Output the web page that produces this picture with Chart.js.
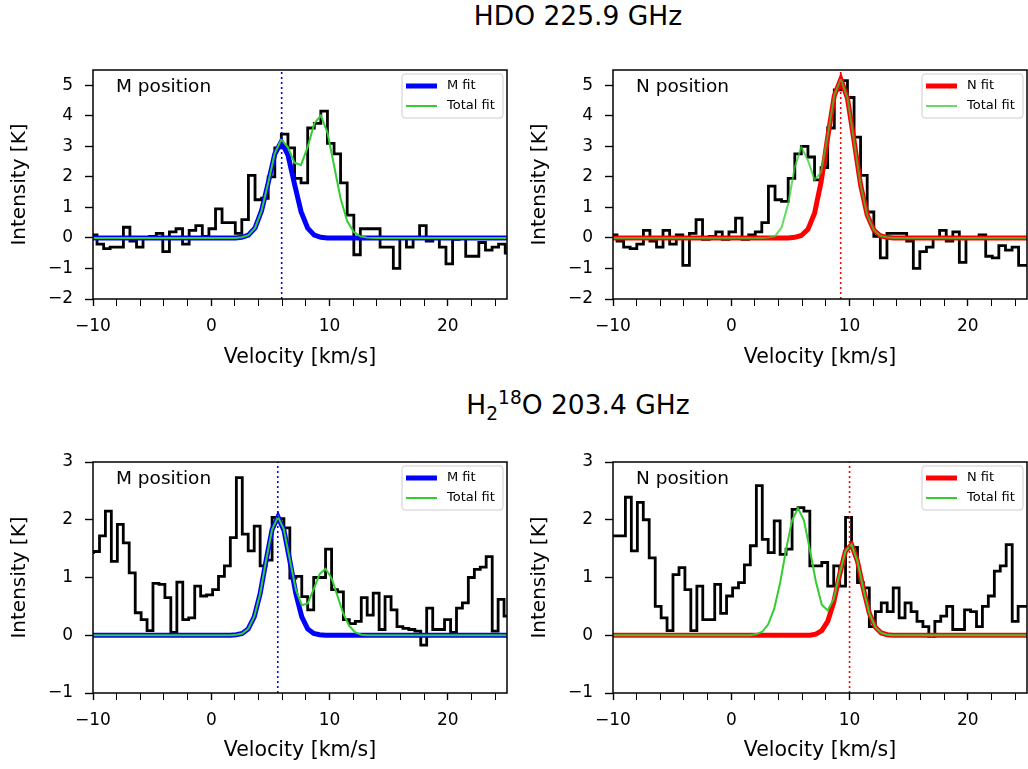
<!DOCTYPE html>
<html lang="en">
<head>
<meta charset="UTF-8">
<title>HDO and H2 18O line fits</title>
<script src="https://cdn.jsdelivr.net/npm/chart.js"></script>
<style>
  body { margin: 0; background: #fff; }
  #fig { position: relative; width: 1028px; height: 769px; overflow: hidden; font-family: "DejaVu Sans", sans-serif; }
  .panel { position: absolute; }
  .suptitle { position: absolute; left: 328px; width: 500px; text-align: center; font-size: 26.5px; line-height: 1.2; color: #000; }
  .suptitle sub, .suptitle sup { font-size: 0.7em; line-height: 0; }
</style>
</head>
<body>
<div id="fig">
  <div class="suptitle" style="top:0px">HDO 225.9 GHz</div>
  <div class="suptitle" style="top:389px">H<sub>2</sub><sup>18</sup>O 203.4 GHz</div>
  <div class="panel" style="left:0;top:40px;width:520px;height:340px"><canvas id="c1"></canvas></div>
  <div class="panel" style="left:520px;top:40px;width:508px;height:340px"><canvas id="c2"></canvas></div>
  <div class="panel" style="left:0;top:430px;width:520px;height:339px"><canvas id="c3"></canvas></div>
  <div class="panel" style="left:520px;top:430px;width:508px;height:339px"><canvas id="c4"></canvas></div>
</div>

<script>
// HDO 225.9 GHz: channel velocities (km/s), spectrum drawn as steps
const hdoVel = [-10.77, -10.22, -9.66, -9.10, -8.55, -7.99, -7.43, -6.88, -6.32, -5.77,
  -5.21, -4.65, -4.10, -3.54, -2.98, -2.43, -1.87, -1.31, -0.76, -0.20,
  0.36, 0.91, 1.47, 2.03, 2.58, 3.14, 3.70, 4.25, 4.81, 5.37,
  5.92, 6.48, 7.04, 7.59, 8.15, 8.71, 9.26, 9.82, 10.38, 10.93,
  11.49, 12.05, 12.60, 13.16, 13.72, 14.27, 14.83, 15.39, 15.94, 16.50,
  17.06, 17.61, 18.17, 18.73, 19.28, 19.84, 20.40, 20.95, 21.51, 22.07,
  22.62, 23.18, 23.74, 24.29, 24.85, 25.41];
const hdoSpecM = [-0.1, 0.1, -0.2, -0.35, -0.3, -0.3, 0.35, -0.1, -0.3, 0.0,
  0.05, 0.15, -0.45, 0.2, 0.3, -0.2, 0.25, 0.4, 0.05, 0.3,
  0.95, 0.5, 0.5, 0.15, 0.6, 2.05, 1.25, 1.3, 2.0, 2.95,
  3.4, 2.95, 1.95, 1.8, 3.6, 3.75, 4.15, 3.1, 2.75, 1.8,
  0.75, -0.55, 0.3, 0.3, 0.3, -0.3, -0.3, -1.0, 0.0, -0.3,
  0.0, 0.4, -0.1, 0.0, -0.3, -0.85, -0.05, 0.0, -0.6, -0.6,
  -0.15, -0.4, -0.3, -0.2, -0.5, -0.5];
const hdoSpecN = [0.0, 0.1, -0.1, -0.3, -0.35, -0.2, 0.25, -0.1, -0.3, 0.25,
  -0.2, 0.1, -0.9, 0.15, 0.6, -0.05, 0.05, 0.2, -0.05, 0.2,
  0.65, -0.05, 0.1, 0.2, 0.5, 1.7, 1.25, 1.2, 1.95, 2.75,
  3.0, 2.65, 1.9, 2.3, 3.6, 4.85, 5.15, 4.6, 3.3, 2.05,
  0.85, 0.05, -0.65, 0.15, 0.15, 0.15, -0.1, -1.0, -0.45, -0.3,
  0.0, 0.25, -0.1, 0.2, -0.8, 0.0, 0.0, 0.1, -0.6, -0.65,
  -0.25, -0.4, -0.3, -0.9, -0.9, -0.9];
// fitted profiles, sampled on the line channels
const hdoFitVel = [-10.77, 1.47, 2.03, 2.58, 3.14, 3.70, 4.25, 4.81, 5.37, 5.92, 6.48, 7.04, 7.59,
  8.15, 8.71, 9.26, 9.82, 10.38, 10.93, 11.49, 12.05, 12.60, 13.16, 13.72, 25.41];
const hdoFitM = [0, 0, 0, 0.02, 0.09, 0.33, 0.89, 1.80, 2.75, 3.15, 2.72, 1.76, 0.86,
  0.32, 0.09, 0.02, 0, 0, 0, 0, 0, 0, 0, 0, 0];
const hdoFitTotM = [0, 0, 0, 0.02, 0.09, 0.33, 0.89, 1.80, 2.77, 3.22, 2.97, 2.46, 2.39,
  2.98, 3.75, 4.01, 3.45, 2.37, 1.29, 0.55, 0.19, 0.05, 0.01, 0, 0];
const hdoFitN = [0, 0, 0, 0, 0, 0, 0, 0, 0.02, 0.08, 0.28, 0.81, 1.83,
  3.29, 4.66, 5.2, 4.58, 3.18, 1.74, 0.75, 0.26, 0.07, 0.02, 0, 0];
const hdoFitTotN = [0, 0, 0, 0, 0.01, 0.06, 0.34, 1.12, 2.32, 2.98, 2.54, 1.90, 2.15,
  3.35, 4.67, 5.2, 4.58, 3.18, 1.74, 0.75, 0.26, 0.07, 0.02, 0, 0];

// H2 18O 203.4 GHz
const h2oVel = [-10.46, -9.96, -9.45, -8.95, -8.45, -7.94, -7.44, -6.94, -6.43, -5.93,
  -5.43, -4.93, -4.42, -3.92, -3.42, -2.91, -2.41, -1.91, -1.40, -0.90,
  -0.40, 0.11, 0.61, 1.11, 1.61, 2.12, 2.62, 3.12, 3.63, 4.13,
  4.63, 5.14, 5.64, 6.14, 6.64, 7.15, 7.65, 8.15, 8.66, 9.16,
  9.66, 10.17, 10.67, 11.17, 11.67, 12.18, 12.68, 13.18, 13.69, 14.19,
  14.69, 15.20, 15.70, 16.20, 16.70, 17.21, 17.71, 18.21, 18.72, 19.22,
  19.72, 20.23, 20.73, 21.23, 21.73, 22.24, 22.74, 23.24, 23.75, 24.25,
  24.75, 25.26];
const h2oSpecM = [1.43, 1.45, 1.72, 2.15, 1.28, 1.92, 1.6, 1.08, 0.39, 0.27,
  0.08, 0.9, 0.88, 0.65, 0.05, 0.92, 0.27, 0.3, 0.85, 0.68,
  0.7, 0.79, 1.02, 1.2, 1.69, 2.73, 1.75, 1.46, 1.89, 1.2,
  1.3, 2.04, 2.02, 1.86, 0.99, 1.02, 0.67, 0.44, 1.0, 1.0,
  1.49, 0.79, 0.75, 0.27, 0.2, 0.24, 0.65, 0.35, 0.73, 0.1,
  0.67, 0.44, 0.15, 0.12, 0.1, 0.07, -0.17, 0.47, 0.1, 0.1,
  0.27, 0.05, 0.47, 0.56, 1.0, 1.14, 1.18, 1.36, 0.07, 0.62,
  0.33, 0.33];
const h2oSpecN = [1.72, 1.72, 1.72, 2.39, 1.46, 2.3, 2.0, 1.34, 0.5, 0.3,
  0.08, 1.05, 1.17, 0.79, 0.08, 0.85, 0.27, 0.27, 0.88, 0.38,
  0.68, 0.82, 0.91, 1.22, 1.55, 2.59, 1.66, 1.43, 1.98, 1.4,
  1.49, 2.18, 2.21, 2.15, 1.2, 1.2, 1.26, 0.85, 1.2, 0.85,
  2.04, 1.52, 0.91, 0.82, 0.15, 0.41, 0.56, 0.41, 0.82, 0.3,
  0.56, 0.41, 0.24, 0.15, -0.02, 0.24, 0.33, 0.5, 0.1, 0.1,
  0.44, 0.41, 0.15, 0.5, 0.68, 1.11, 1.2, 1.57, 0.24, 0.5,
  0.5, 0.5];
const h2oFitVel = [-10.46, 1.11, 1.61, 2.12, 2.62, 3.12, 3.63, 4.13, 4.63, 5.14, 5.64, 6.14, 6.64, 7.15,
  7.65, 8.15, 8.66, 9.16, 9.66, 10.17, 10.67, 11.17, 11.67, 12.18, 12.68, 13.18, 13.69, 25.26];
const h2oFitM = [0, 0, 0, 0.01, 0.03, 0.11, 0.32, 0.72, 1.29, 1.83, 2.05, 1.82, 1.29, 0.72,
  0.32, 0.11, 0.03, 0.01, 0, 0, 0, 0, 0, 0, 0, 0, 0, 0];
const h2oFitTotM = [0, 0, 0, 0.01, 0.03, 0.11, 0.32, 0.72, 1.29, 1.83, 2.05, 1.83, 1.31, 0.79,
  0.52, 0.55, 0.80, 1.06, 1.15, 0.99, 0.68, 0.37, 0.16, 0.05, 0.01, 0, 0, 0];
const h2oFitN = [0, 0, 0, 0, 0, 0, 0, 0, 0, 0, 0, 0, 0, 0.02,
  0.08, 0.24, 0.57, 1.05, 1.46, 1.57, 1.28, 0.80, 0.38, 0.14, 0.04, 0.01, 0, 0];
const h2oFitTotN = [0, 0, 0, 0.02, 0.06, 0.19, 0.46, 0.91, 1.48, 1.99, 2.2, 1.99, 1.48, 0.93,
  0.53, 0.43, 0.63, 1.07, 1.46, 1.57, 1.28, 0.80, 0.38, 0.14, 0.04, 0.01, 0, 0];

// systemic velocity markers (km/s)
const vlineHdoM = 5.95, vlineHdoN = 9.25, vlineH2oM = 5.62, vlineH2oN = 10.0;
const xLabelTicks = [-10, 0, 10, 20];

Chart.defaults.font.family = '"DejaVu Sans", sans-serif';
Chart.defaults.color = '#000';

const fmt = v => (v < 0 ? '\u2212' + Math.abs(v) : String(v));
const pts = (xs, ys) => xs.map((x, i) => ({ x: x, y: ys[i] }));

// frame, position label and legend box inside the axes
const decoPlugin = {
  id: 'deco',
  afterDraw(chart, args, o) {
    const ca = chart.chartArea, ctx = chart.ctx;
    ctx.save();
    ctx.strokeStyle = '#000';
    ctx.lineWidth = 1.5;
    ctx.strokeRect(ca.left, ca.top, ca.right - ca.left, ca.bottom - ca.top);

    ctx.fillStyle = '#000';
    ctx.font = '18.5px "DejaVu Sans"';
    ctx.textBaseline = 'alphabetic';
    ctx.fillText(o.label, ca.left + 23, ca.top + 22);

    const bw = 101, bh = 44, bx = ca.right - bw - 4, by = ca.top + 4;
    ctx.beginPath();
    ctx.roundRect(bx, by, bw, bh, 3);
    ctx.fillStyle = 'rgba(255,255,255,0.8)';
    ctx.fill();
    ctx.strokeStyle = '#cccccc';
    ctx.lineWidth = 1;
    ctx.stroke();
    ctx.font = '13px "DejaVu Sans"';
    ctx.textBaseline = 'middle';
    o.entries.forEach((e, i) => {
      const y = by + 12 + i * 20;
      ctx.beginPath();
      ctx.moveTo(bx + 4, y);
      ctx.lineTo(bx + 35, y);
      ctx.strokeStyle = e.color;
      ctx.lineWidth = e.width;
      ctx.stroke();
      ctx.fillStyle = '#000';
      ctx.fillText(e.text, bx + 45, y);
    });
    ctx.restore();
  }
};

function makePanel(p) {
  new Chart(document.getElementById(p.id), {
    type: 'line',
    data: {
      datasets: [
        { data: [{ x: p.vline, y: p.ymin }, { x: p.vline, y: p.ymax }], borderColor: p.color,
          borderWidth: 1.6, borderDash: [2, 3], pointRadius: 0, order: 1, clip: 0 },
        { data: pts(p.fitVel, p.total), borderColor: p.totColor, borderWidth: 2,
          pointRadius: 0, order: 2, clip: 0 },
        { data: pts(p.fitVel, p.fit), borderColor: p.color, borderWidth: 5,
          pointRadius: 0, order: 3, clip: 0 },
        { data: pts(p.vel, p.spec), borderColor: '#000', borderWidth: 2.8, stepped: 'before',
          pointRadius: 0, order: 4, clip: 0 }
      ]
    },
    options: {
      responsive: true,
      maintainAspectRatio: false,
      animation: false,
      events: [],
      layout: { padding: { top: p.padTop, right: p.padRight, left: 0, bottom: 0 } },
      plugins: {
        legend: { display: false },
        tooltip: { enabled: false },
        deco: { label: p.label, entries: [
          { text: p.fitName, color: p.color, width: 5 },
          { text: 'Total fit', color: p.totColor, width: 2 }
        ] }
      },
      scales: {
        x: {
          type: 'linear', min: -10, max: 25,
          afterFit: s => { s.height = p.xH; },
          border: { display: false },
          grid: { drawOnChartArea: false, tickLength: 7, tickColor: '#000',
                  tickWidth: c => (xLabelTicks.includes(c.tick.value) ? 1.4 : 1) },
          ticks: { stepSize: 2, autoSkip: false, maxRotation: 0, includeBounds: false, padding: 10,
                   font: { size: 17 }, color: '#000',
                   callback: v => (xLabelTicks.includes(v) ? fmt(v) : '') },
          title: { display: true, text: 'Velocity [km/s]', font: { size: 20.5 }, color: '#000',
                   padding: { top: 0, bottom: p.xTitlePad } }
        },
        y: {
          min: p.ymin, max: p.ymax,
          afterFit: s => { s.width = 93; },
          border: { display: false },
          grid: { drawOnChartArea: false, tickLength: 8, tickColor: '#000', tickWidth: 1.4 },
          ticks: { stepSize: 1, includeBounds: false, padding: 12, font: { size: 17 }, color: '#000',
                   callback: v => fmt(v) },
          title: { display: true, text: 'Intensity [K]', font: { size: 20 }, color: '#000',
                   padding: { top: 8, bottom: 0 } }
        }
      }
    },
    plugins: [decoPlugin]
  });
}

const green = '#32cd32';
makePanel({ id: 'c1', vel: hdoVel, spec: hdoSpecM, fitVel: hdoFitVel, fit: hdoFitM, total: hdoFitTotM,
  vline: vlineHdoM, color: '#0000ff', totColor: green, label: 'M position', fitName: 'M fit',
  ymin: -2, ymax: 5.5, padTop: 30, padRight: 13, xH: 81, xTitlePad: 10 });
makePanel({ id: 'c2', vel: hdoVel, spec: hdoSpecN, fitVel: hdoFitVel, fit: hdoFitN, total: hdoFitTotN,
  vline: vlineHdoN, color: '#ff0000', totColor: 'rgba(50,205,50,0.75)', label: 'N position', fitName: 'N fit',
  ymin: -2, ymax: 5.5, padTop: 30, padRight: 1, xH: 81, xTitlePad: 10 });
makePanel({ id: 'c3', vel: h2oVel, spec: h2oSpecM, fitVel: h2oFitVel, fit: h2oFitM, total: h2oFitTotM,
  vline: vlineH2oM, color: '#0000ff', totColor: green, label: 'M position', fitName: 'M fit',
  ymin: -1, ymax: 3, padTop: 32, padRight: 13, xH: 76, xTitlePad: 6 });
makePanel({ id: 'c4', vel: h2oVel, spec: h2oSpecN, fitVel: h2oFitVel, fit: h2oFitN, total: h2oFitTotN,
  vline: vlineH2oN, color: '#ff0000', totColor: green, label: 'N position', fitName: 'N fit',
  ymin: -1, ymax: 3, padTop: 32, padRight: 1, xH: 76, xTitlePad: 6 });
</script>
</body>
</html>
